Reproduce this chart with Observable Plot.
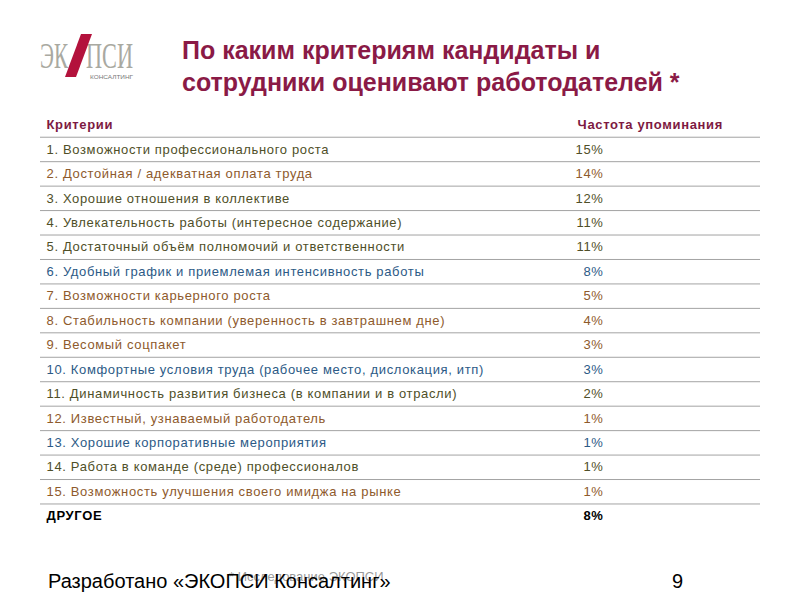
<!DOCTYPE html>
<html><head><meta charset="utf-8">
<script src="https://cdn.jsdelivr.net/npm/d3@7"></script>
<script src="https://cdn.jsdelivr.net/npm/@observablehq/plot@0.6"></script>
<style>
html,body{margin:0;padding:0;background:#fff;}
#page{position:relative;width:800px;height:600px;overflow:hidden;font-family:"Liberation Sans",Arial,sans-serif;}
#chart{position:absolute;left:0;top:0;}
#title{position:absolute;left:182px;top:34px;margin:0;font-size:25px;font-weight:bold;line-height:32px;color:#8a1a46;}
#logo{position:absolute;left:0;top:0;}
#footer{position:absolute;left:48px;top:570px;font-size:20px;color:#000;}
#pagenum{position:absolute;left:672px;top:570px;font-size:20px;color:#000;}
#source{position:absolute;left:229px;top:569px;font-size:13px;font-family:"Liberation Sans Narrow","Liberation Sans",sans-serif;color:rgba(120,120,120,0.75);}
</style></head>
<body>
<div id="page">
  <svg id="logo" width="180" height="100" font-family="Liberation Serif, serif" font-size="36" fill="#a9a9a1">
    <text x="40" y="68" textLength="28" lengthAdjust="spacingAndGlyphs">ЭК</text>
    <text x="86" y="68" textLength="47" lengthAdjust="spacingAndGlyphs">ПСИ</text>
    <polygon points="65,77 76,77 92,34 81,34" fill="#b3123c"/>
    <text x="90" y="79" font-family="Liberation Sans, sans-serif" font-size="6" fill="#777" textLength="43" lengthAdjust="spacingAndGlyphs">КОНСАЛТИНГ</text>
  </svg>
  <h1 id="title">По каким критериям кандидаты и<br>сотрудники оценивают работодателей *</h1>
  <div id="chart"></div>
  <div id="source">* Исследование ЭКОПСИ</div>
  <div id="footer">Разработано «ЭКОПСИ Консалтинг»</div>
  <div id="pagenum">9</div>
</div>
<script>
// ---- data ----
const headers = ["Критерии", "Частота упоминания"];
const criteria = [
  "1. Возможности профессионального роста",
  "2. Достойная / адекватная оплата труда",
  "3. Хорошие отношения в коллективе",
  "4. Увлекательность работы (интересное содержание)",
  "5. Достаточный объём полномочий и ответственности",
  "6. Удобный график и приемлемая интенсивность работы",
  "7. Возможности карьерного роста",
  "8. Стабильность компании (уверенность в завтрашнем дне)",
  "9. Весомый соцпакет",
  "10. Комфортные условия труда (рабочее место, дислокация, итп)",
  "11. Динамичность развития бизнеса (в компании и в отрасли)",
  "12. Известный, узнаваемый работодатель",
  "13. Хорошие корпоративные мероприятия",
  "14. Работа в команде (среде) профессионалов",
  "15. Возможность улучшения своего имиджа на рынке"
];
const shares = [15, 14, 12, 11, 11, 8, 5, 4, 3, 3, 2, 1, 1, 1, 1];
const groups = ["A","B","A","A","A","C","B","B","B","C","A","B","C","A","B"];
const otherLabel = "ДРУГОЕ";
const otherShare = 8;

// ---- layout (not data) ----
const groupColors = {domain: ["A","B","C"], range: ["#4f4f28", "#8e5a2c", "#2c5a86"]};
const VAL_X = 0.782;   // right edge of percentage column (fraction of table width)
const HEAD2_X = 0.746; // left edge of second header

const rows = criteria.map((c, i) => ({idx: i + 1, label: c, share: shares[i], group: groups[i]}));
const lastIdx = criteria.length + 1;

const chart = Plot.plot({
  width: 800,
  height: 600,
  marginLeft: 40,
  marginRight: 40,
  marginTop: 124.5,
  marginBottom: 84.3,
  x: {domain: [0, 1], axis: null},
  y: {domain: [0, lastIdx], reverse: true, axis: null},
  color: groupColors,
  style: {fontFamily: "Liberation Sans, Arial, sans-serif", fontSize: "13px", background: "transparent", letterSpacing: "0.65px"},
  marks: [
    Plot.ruleY(d3.range(lastIdx), {y: d => d + 0.5, stroke: "#a3a3a3", strokeWidth: 1}),
    Plot.text([headers[0]], {y: () => 0, text: d => d, frameAnchor: "left", dx: 6, fontWeight: "bold", fill: "#7d1a42", letterSpacing: "0.25px"}),
    Plot.text([headers[1]], {x: () => HEAD2_X, y: () => 0, text: d => d, textAnchor: "start", fontWeight: "bold", fill: "#7d1a42"}),
    Plot.text(rows, {y: "idx", text: "label", frameAnchor: "left", dx: 6, fill: "group"}),
    Plot.text(rows, {x: () => VAL_X, y: "idx", text: d => d.share + "%", textAnchor: "end", fill: "group"}),
    Plot.text([otherLabel], {y: () => lastIdx, text: d => d, frameAnchor: "left", dx: 6, fontWeight: "bold", fill: "#000"}),
    Plot.text([otherShare], {x: () => VAL_X, y: () => lastIdx, text: d => d + "%", textAnchor: "end", fontWeight: "bold", fill: "#000"})
  ]
});
document.getElementById("chart").appendChild(chart);
</script>
</body></html>
